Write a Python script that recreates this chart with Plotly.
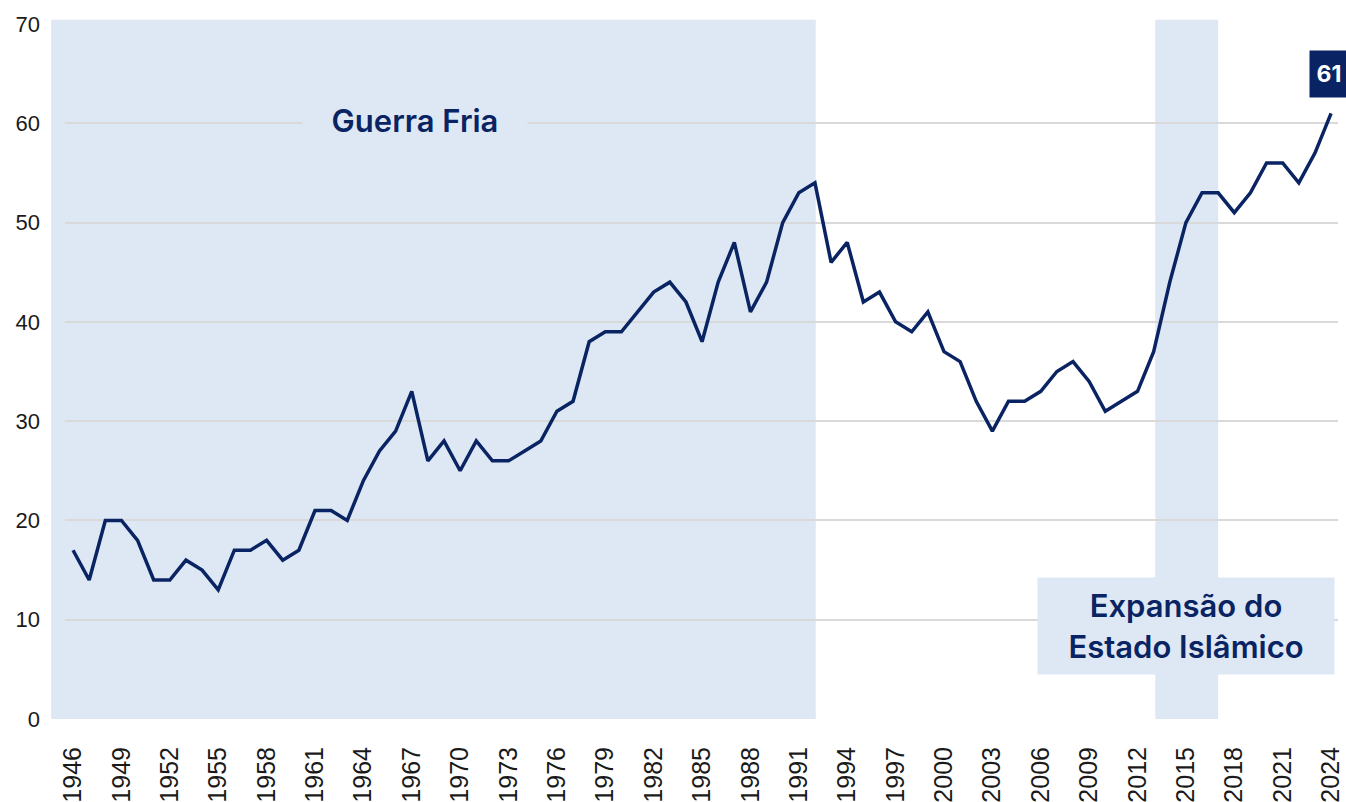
import plotly.graph_objects as go

years = list(range(1946, 2025))
values = [17, 14, 20, 20, 18, 14, 14, 16, 15, 13,
          17, 17, 18, 16, 17, 21, 21, 20, 24, 27,
          29, 33, 26, 28, 25, 28, 26, 26, 27, 28,
          31, 32, 38, 39, 39, 41, 43, 44, 42, 38,
          44, 48, 41, 44, 50, 53, 54, 46, 48, 42,
          43, 40, 39, 41, 37, 36, 32, 29, 32, 32,
          33, 35, 36, 34, 31, 32, 33, 37, 44, 50,
          53, 53, 51, 53, 56, 56, 54, 57, 61]
x_ticks = list(range(1946, 2025, 3))
y_ticks = [0, 10, 20, 30, 40, 50, 60, 70]

periods = [("Guerra Fria", 1944.64, 1992.05), ("Expansão do Estado Islâmico", 2013.1, 2017.0)]

NAVY = "#0a2463"
SHADE = "#dde8f4"
GRID = "#d9d9d9"

x_min, x_max = 1945.5, 2024.43

def to_paper(v):
    return (v - x_min) / (x_max - x_min)

fig = go.Figure()
fig.add_trace(go.Scatter(x=years, y=values, mode="lines",
                         line=dict(color=NAVY, width=3.5), hoverinfo="x+y",
                         cliponaxis=False))

for name, a, b in periods:
    fig.add_shape(type="rect", xref="paper", yref="paper",
                  x0=to_paper(a), x1=to_paper(b), y0=0, y1=1.006,
                  fillcolor=SHADE, line=dict(width=0), layer="below")

fig.add_annotation(x=1967.2, y=60.3, xref="x", yref="y", text="Guerra Fria",
                   showarrow=False,
                   font=dict(family="Inter", size=31, color=NAVY, weight=600),
                   bgcolor=SHADE, borderpad=4, xanchor="center", yanchor="middle",
                   width=216)
fig.add_annotation(x=2015.0, y=9.37, xref="x", yref="y",
                   text="Expansão do<br>Estado Islâmico",
                   showarrow=False,
                   font=dict(family="Inter", size=31, color=NAVY, weight=600),
                   bgcolor=SHADE, borderpad=0, xanchor="center", yanchor="middle",
                   width=296, height=96)
fig.add_annotation(x=years[-1], y=values[-1], xref="x", yref="y", text="<b>61</b>",
                   showarrow=False, font=dict(family="Inter", size=23, color="white"),
                   bgcolor=NAVY, borderpad=0, xanchor="left", yanchor="middle",
                   width=38, height=46, xshift=-22, yshift=39)

fig.update_layout(
    width=1346, height=802,
    margin=dict(l=65, r=8, t=24, b=83),
    paper_bgcolor="white", plot_bgcolor="rgba(0,0,0,0)",
    showlegend=False,
    font=dict(family="Liberation Sans, Arial", color="#1a1a1a"),
)
fig.update_xaxes(range=[x_min, x_max], tickmode="array", tickvals=x_ticks,
                 ticktext=[str(t) for t in x_ticks], tickangle=-90,
                 tickfont=dict(size=25, color="#1a1a1a"), showgrid=False,
                 zeroline=False, showline=False, ticks="outside", ticklen=17,
                 tickcolor="rgba(0,0,0,0)", automargin=False)
fig.update_yaxes(range=[0, 70], tickmode="array", tickvals=y_ticks,
                 tickfont=dict(size=22, color="#1a1a1a"), showgrid=True,
                 gridcolor=GRID, gridwidth=2, zeroline=False, showline=False,
                 ticklabelstandoff=24, automargin=False)

fig.write_html("out.html", config={"displayModeBar": False},
               post_script="document.body.style.margin='0';document.body.style.overflow='hidden';")
